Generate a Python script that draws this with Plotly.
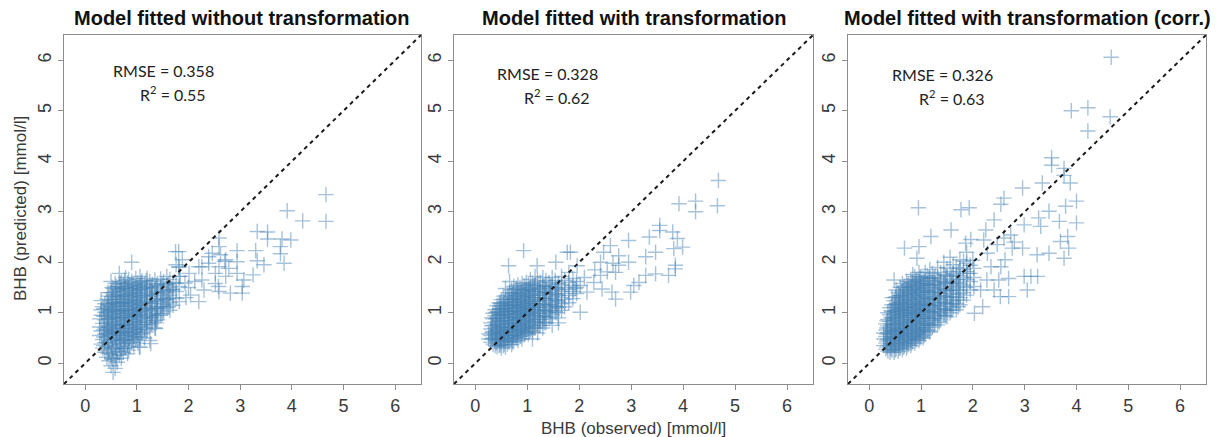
import plotly.graph_objects as go

# ---------------------------------------------------------------- data
# Observed vs. predicted BHB [mmol/l]; dense part stored column-wise as
# (observed, [predicted, ...]), sparse high values as (observed, predicted).

core_no_trans = [
    (0.28, [0.55, 0.72, 0.88]),
    (0.31, [0.38, 0.64, 0.95, 1.06, 1.24]),
    (0.34, [0.30, 0.47, 0.79, 1.12]),
    (0.36, [0.35, 0.52, 0.66, 0.93, 1.08]),
    (0.38, [0.22, 0.41, 0.58, 0.70, 0.86, 1.01, 1.18]),
    (0.42, [0.12, 0.33, 0.52, 0.66, 0.80, 0.94, 1.09, 1.27]),
    (0.44, [0.20, 0.40, 0.58, 0.72, 0.87, 1.00, 1.15, 1.40]),
    (0.46, [0.05, 0.26, 0.44, 0.60, 0.74, 0.89, 1.03, 1.17, 1.33]),
    (0.50, [-0.05, 0.18, 0.37, 0.55, 0.69, 0.83, 0.98, 1.12, 1.26, 1.40, 1.62]),
    (0.52, [0.10, 0.31, 0.48, 0.63, 0.76, 0.90, 1.04, 1.19, 1.32, 1.50]),
    (0.54, [-0.18, 0.08, 0.28, 0.46, 0.62, 0.77, 0.92, 1.06, 1.21, 1.35, 1.48]),
    (0.58, [-0.10, 0.15, 0.33, 0.51, 0.66, 0.81, 0.96, 1.11, 1.25, 1.42, 1.58]),
    (0.60, [0.09, 0.29, 0.46, 0.61, 0.76, 0.91, 1.06, 1.20, 1.36, 1.52]),
    (0.62, [0.02, 0.24, 0.42, 0.57, 0.72, 0.87, 1.02, 1.16, 1.31, 1.46]),
    (0.66, [0.17, 0.36, 0.50, 0.64, 0.79, 0.94, 1.08, 1.22, 1.37, 1.52, 1.78]),
    (0.68, [0.23, 0.40, 0.55, 0.69, 0.84, 0.99, 1.13, 1.27, 1.43, 1.58]),
    (0.70, [0.10, 0.29, 0.45, 0.60, 0.74, 0.89, 1.03, 1.18, 1.32, 1.47, 1.61]),
    (0.74, [0.22, 0.39, 0.54, 0.69, 0.84, 0.98, 1.13, 1.27, 1.41, 1.56]),
    (0.76, [0.30, 0.46, 0.61, 0.76, 0.91, 1.05, 1.20, 1.34, 1.49, 1.64]),
    (0.78, [0.30, 0.47, 0.62, 0.77, 0.92, 1.06, 1.21, 1.35, 1.50, 1.70]),
    (0.82, [0.19, 0.40, 0.56, 0.71, 0.86, 1.00, 1.15, 1.29, 1.44, 1.59]),
    (0.84, [0.26, 0.44, 0.60, 0.75, 0.90, 1.04, 1.19, 1.33, 1.48, 1.66]),
    (0.86, [0.33, 0.50, 0.65, 0.80, 0.95, 1.09, 1.24, 1.38, 1.53]),
    (0.90, [0.42, 0.58, 0.73, 0.88, 1.03, 1.17, 1.32, 1.47, 1.62, 2.00]),
    (0.92, [0.47, 0.63, 0.78, 0.93, 1.07, 1.22, 1.37, 1.52]),
    (0.94, [0.36, 0.53, 0.68, 0.83, 0.97, 1.12, 1.26, 1.41, 1.56]),
    (0.98, [0.47, 0.62, 0.77, 0.92, 1.06, 1.21, 1.35, 1.50, 1.68]),
    (1.00, [0.52, 0.67, 0.81, 0.96, 1.11, 1.25, 1.40, 1.55]),
    (1.02, [0.40, 0.56, 0.71, 0.86, 1.00, 1.15, 1.30, 1.44, 1.59]),
    (1.06, [0.32, 0.52, 0.67, 0.82, 0.96, 1.10, 1.25, 1.39, 1.54, 1.72]),
    (1.08, [0.58, 0.73, 0.88, 1.03, 1.17, 1.31, 1.46, 1.60]),
    (1.10, [0.60, 0.76, 0.91, 1.05, 1.19, 1.34, 1.48, 1.63]),
    (1.15, [0.50, 0.70, 0.85, 1.00, 1.14, 1.28, 1.43, 1.57]),
    (1.18, [0.62, 0.77, 0.92, 1.07, 1.21, 1.35, 1.50, 1.64]),
    (1.20, [0.66, 0.81, 0.95, 1.09, 1.23, 1.38, 1.52, 1.68]),
    (1.25, [0.45, 0.74, 0.89, 1.03, 1.18, 1.32, 1.47, 1.62]),
    (1.28, [0.78, 0.92, 1.07, 1.22, 1.36, 1.51]),
    (1.30, [0.82, 0.97, 1.11, 1.26, 1.41, 1.56]),
    (1.35, [0.70, 0.90, 1.05, 1.19, 1.34, 1.49, 1.65]),
    (1.38, [0.80, 0.94, 1.09, 1.24, 1.39, 1.54]),
    (1.40, [0.86, 0.99, 1.13, 1.28, 1.43, 1.58]),
    (1.46, [0.95, 1.08, 1.22, 1.37, 1.52, 1.67]),
    (1.49, [0.98, 1.12, 1.27, 1.42, 1.57]),
    (1.52, [1.02, 1.17, 1.31, 1.46, 1.62]),
    (1.58, [1.10, 1.25, 1.40, 1.55, 1.72]),
    (1.61, [1.12, 1.28, 1.44, 1.58]),
    (1.64, [1.05, 1.20, 1.35, 1.50, 1.66]),
    (1.70, [1.15, 1.30, 1.46, 1.60]),
    (1.76, [1.28, 1.42, 1.58, 1.95]),
    (1.82, [1.22, 1.52, 1.72, 1.90]),
]

tail_no_trans = [
    (4.66, 3.34), (4.66, 2.81), (4.21, 2.82), (3.91, 3.02), (3.53, 2.60),
    (3.33, 2.61), (3.53, 2.46), (3.81, 2.46), (3.98, 2.44), (3.78, 2.17),
    (3.78, 2.31), (3.33, 2.03), (3.46, 1.95), (3.30, 2.23), (3.85, 1.98),
    (2.94, 2.23), (2.94, 2.01), (2.94, 1.78), (2.78, 1.88), (3.25, 1.75),
    (3.07, 1.65), (3.04, 1.52), (3.04, 1.39), (2.81, 1.39), (2.62, 2.15),
    (2.72, 2.05), (2.59, 1.91), (2.52, 1.78), (2.72, 1.72), (2.39, 2.11),
    (2.39, 1.98), (2.26, 1.91), (2.52, 1.58), (2.58, 1.52), (2.59, 1.42),
    (2.26, 1.65), (1.75, 2.21), (1.88, 2.05), (2.01, 1.78), (2.59, 2.48),
    (2.59, 2.31), (2.46, 2.18), (2.20, 1.91), (2.20, 1.22), (2.04, 1.35),
    (2.00, 1.50), (1.81, 2.21), (1.81, 1.91), (1.84, 1.72), (1.93, 1.59),
    (1.68, 1.46), (1.55, 1.26), (1.36, 0.85), (1.36, 0.69), (1.27, 0.39),
    (1.05, 0.32), (2.12, 1.62), (2.30, 1.45), (1.95, 1.30), (2.70, 2.02),
]

core_trans = [
    (0.26, [0.48, 0.58]),
    (0.30, [0.42, 0.55, 0.68, 0.80]),
    (0.32, [0.48, 0.61, 0.74, 0.90]),
    (0.34, [0.38, 0.50, 0.63, 0.75, 0.88, 0.99]),
    (0.38, [0.35, 0.46, 0.58, 0.70, 0.82, 0.94, 1.06]),
    (0.40, [0.40, 0.52, 0.64, 0.76, 0.88, 1.00]),
    (0.42, [0.33, 0.44, 0.55, 0.66, 0.78, 0.90, 1.02, 1.14]),
    (0.46, [0.36, 0.48, 0.60, 0.72, 0.84, 0.96, 1.08, 1.20]),
    (0.48, [0.36, 0.47, 0.59, 0.71, 0.83, 0.95, 1.07, 1.18]),
    (0.50, [0.30, 0.42, 0.53, 0.65, 0.77, 0.89, 1.01, 1.13, 1.26]),
    (0.54, [0.35, 0.47, 0.59, 0.71, 0.83, 0.95, 1.07, 1.19, 1.33]),
    (0.56, [0.38, 0.50, 0.62, 0.73, 0.85, 0.97, 1.09, 1.21]),
    (0.58, [0.32, 0.44, 0.56, 0.67, 0.79, 0.91, 1.03, 1.15, 1.27, 1.48]),
    (0.62, [0.38, 0.50, 0.62, 0.74, 0.86, 0.98, 1.10, 1.22, 1.35]),
    (0.64, [0.44, 0.56, 0.68, 0.80, 0.92, 1.04, 1.16, 1.30]),
    (0.66, [0.42, 0.54, 0.66, 0.78, 0.90, 1.02, 1.14, 1.26, 1.40, 1.62]),
    (0.70, [0.37, 0.48, 0.60, 0.72, 0.84, 0.96, 1.08, 1.20, 1.32, 1.45]),
    (0.72, [0.42, 0.54, 0.66, 0.78, 0.90, 1.02, 1.14, 1.26, 1.38]),
    (0.74, [0.44, 0.56, 0.68, 0.80, 0.92, 1.04, 1.16, 1.28, 1.40, 1.52]),
    (0.78, [0.50, 0.62, 0.74, 0.86, 0.98, 1.10, 1.22, 1.34, 1.46]),
    (0.80, [0.50, 0.62, 0.75, 0.87, 0.99, 1.11, 1.23, 1.35, 1.48]),
    (0.82, [0.45, 0.57, 0.69, 0.81, 0.93, 1.05, 1.17, 1.29, 1.41, 1.55]),
    (0.86, [0.53, 0.65, 0.77, 0.89, 1.01, 1.13, 1.25, 1.37, 1.50]),
    (0.88, [0.54, 0.66, 0.78, 0.90, 1.02, 1.14, 1.26, 1.38]),
    (0.90, [0.48, 0.60, 0.72, 0.84, 0.96, 1.08, 1.20, 1.32, 1.44, 1.58]),
    (0.94, [0.56, 0.68, 0.80, 0.92, 1.04, 1.16, 1.28, 1.40, 1.53]),
    (0.96, [0.60, 0.72, 0.84, 0.96, 1.08, 1.20, 1.32, 1.45]),
    (0.98, [0.62, 0.74, 0.86, 0.98, 1.10, 1.22, 1.34, 1.46, 1.60]),
    (1.02, [0.58, 0.70, 0.82, 0.94, 1.06, 1.18, 1.30, 1.42, 1.55]),
    (1.04, [0.64, 0.76, 0.88, 1.00, 1.12, 1.24, 1.36, 1.48]),
    (1.06, [0.66, 0.78, 0.90, 1.02, 1.14, 1.26, 1.38, 1.50, 1.66]),
    (1.10, [0.48, 0.62, 0.74, 0.86, 0.98, 1.10, 1.22, 1.34, 1.46, 1.58]),
    (1.13, [0.70, 0.82, 0.94, 1.06, 1.18, 1.30, 1.42, 1.54]),
    (1.15, [0.70, 0.82, 0.94, 1.06, 1.18, 1.30, 1.42, 1.55, 1.72]),
    (1.20, [0.60, 0.78, 0.90, 1.02, 1.14, 1.26, 1.38, 1.50, 1.63]),
    (1.23, [0.74, 0.86, 0.98, 1.10, 1.22, 1.34, 1.46]),
    (1.25, [0.75, 0.87, 0.99, 1.11, 1.23, 1.35, 1.47, 1.60]),
    (1.30, [0.70, 0.82, 0.94, 1.06, 1.18, 1.30, 1.42, 1.54, 1.70]),
    (1.33, [0.80, 0.92, 1.04, 1.16, 1.28, 1.40, 1.52]),
    (1.36, [0.80, 0.92, 1.04, 1.16, 1.28, 1.40, 1.52, 1.64]),
    (1.42, [0.88, 1.00, 1.12, 1.24, 1.36, 1.48, 1.60]),
    (1.45, [0.92, 1.04, 1.16, 1.28, 1.40, 1.52]),
    (1.48, [0.75, 0.96, 1.08, 1.20, 1.32, 1.44, 1.56, 1.70]),
    (1.54, [1.02, 1.14, 1.26, 1.38, 1.50, 1.64]),
    (1.57, [1.00, 1.12, 1.24, 1.36, 1.48]),
    (1.60, [0.80, 0.90, 1.10, 1.22, 1.34, 1.46, 1.58]),
    (1.66, [1.05, 1.18, 1.30, 1.42, 1.55, 1.72]),
    (1.72, [1.12, 1.26, 1.38, 1.50, 1.64]),
    (1.80, [1.20, 1.34, 1.46, 1.60, 1.80]),
    (1.88, [1.28, 1.42, 1.54, 1.68]),
    (1.95, [1.38, 1.50, 1.62]),
]

tail_trans = [
    (4.68, 3.62), (4.66, 3.12), (4.24, 3.21), (4.24, 3.00), (3.92, 3.16),
    (3.55, 2.73), (3.55, 2.63), (3.35, 2.50), (3.80, 2.60), (3.89, 2.47),
    (3.82, 2.27), (3.99, 2.30), (3.47, 2.20), (3.28, 2.11), (2.95, 2.43),
    (2.76, 2.13), (2.95, 2.00), (2.76, 1.94), (3.28, 1.74), (3.47, 1.77),
    (3.72, 1.74), (3.85, 1.87), (3.85, 1.94), (3.05, 1.54), (2.99, 1.41),
    (2.70, 1.27), (2.63, 1.41), (2.44, 1.47), (2.60, 2.33), (2.47, 2.20),
    (2.41, 2.00), (2.54, 1.81), (2.41, 1.74), (2.28, 1.60), (2.15, 1.41),
    (2.02, 1.01), (2.02, 1.54), (1.96, 1.93), (1.77, 2.20), (1.83, 2.20),
    (0.93, 2.23), (1.19, 1.93), (1.55, 2.00), (0.64, 1.93), (2.65, 1.98),
    (2.70, 1.80), (2.30, 1.85), (3.15, 1.60), (2.10, 1.70), (1.92, 1.48),
]

core_trans_corr = [
    (0.28, [0.35, 0.48, 0.60]),
    (0.32, [0.28, 0.40, 0.53, 0.66, 0.78]),
    (0.34, [0.32, 0.44, 0.58, 0.70, 0.84]),
    (0.36, [0.24, 0.36, 0.48, 0.61, 0.74, 0.87, 1.00]),
    (0.40, [0.22, 0.33, 0.45, 0.57, 0.70, 0.83, 0.96, 1.10]),
    (0.42, [0.28, 0.40, 0.52, 0.65, 0.78, 0.91, 1.04]),
    (0.44, [0.26, 0.38, 0.50, 0.63, 0.76, 0.89, 1.02, 1.16, 1.30]),
    (0.48, [0.22, 0.34, 0.46, 0.59, 0.72, 0.85, 0.98, 1.11, 1.24, 1.65]),
    (0.50, [0.26, 0.38, 0.51, 0.64, 0.77, 0.90, 1.03, 1.16, 1.30]),
    (0.52, [0.28, 0.40, 0.53, 0.66, 0.79, 0.92, 1.05, 1.18, 1.32, 1.45]),
    (0.56, [0.24, 0.36, 0.49, 0.62, 0.75, 0.88, 1.01, 1.14, 1.27, 1.40]),
    (0.58, [0.30, 0.42, 0.55, 0.68, 0.81, 0.94, 1.07, 1.20, 1.34]),
    (0.60, [0.30, 0.43, 0.56, 0.69, 0.82, 0.95, 1.08, 1.21, 1.34, 1.50]),
    (0.64, [0.27, 0.39, 0.52, 0.65, 0.78, 0.91, 1.04, 1.17, 1.30, 1.43, 1.58]),
    (0.66, [0.32, 0.45, 0.58, 0.71, 0.84, 0.97, 1.10, 1.23, 1.36, 1.50]),
    (0.68, [0.34, 0.47, 0.60, 0.73, 0.86, 0.99, 1.12, 1.25, 1.38, 1.52, 2.28]),
    (0.72, [0.30, 0.42, 0.55, 0.68, 0.81, 0.94, 1.07, 1.20, 1.33, 1.46, 1.62]),
    (0.74, [0.36, 0.48, 0.61, 0.74, 0.87, 1.00, 1.13, 1.26, 1.40, 1.54]),
    (0.76, [0.38, 0.51, 0.64, 0.77, 0.90, 1.03, 1.16, 1.29, 1.42, 1.56]),
    (0.80, [0.35, 0.47, 0.60, 0.73, 0.86, 0.99, 1.12, 1.25, 1.38, 1.51, 1.66]),
    (0.82, [0.40, 0.53, 0.66, 0.79, 0.92, 1.05, 1.18, 1.31, 1.45, 1.60]),
    (0.84, [0.43, 0.56, 0.69, 0.82, 0.95, 1.08, 1.21, 1.34, 1.47, 1.61, 1.76]),
    (0.88, [0.40, 0.52, 0.65, 0.78, 0.91, 1.04, 1.17, 1.30, 1.43, 1.57, 1.72]),
    (0.90, [0.46, 0.58, 0.71, 0.84, 0.97, 1.10, 1.23, 1.36, 1.50, 1.64]),
    (0.92, [0.48, 0.61, 0.74, 0.87, 1.00, 1.13, 1.26, 1.39, 1.52, 1.66, 2.08]),
    (0.96, [0.45, 0.57, 0.70, 0.83, 0.96, 1.09, 1.22, 1.35, 1.48, 1.62, 1.80, 2.31]),
    (0.98, [0.50, 0.63, 0.76, 0.89, 1.02, 1.15, 1.28, 1.41, 1.55, 1.70]),
    (1.00, [0.53, 0.66, 0.79, 0.92, 1.05, 1.18, 1.31, 1.44, 1.58, 1.72]),
    (1.04, [0.50, 0.62, 0.75, 0.88, 1.01, 1.14, 1.27, 1.40, 1.54, 1.68]),
    (1.06, [0.55, 0.68, 0.81, 0.94, 1.07, 1.20, 1.33, 1.47, 1.61]),
    (1.08, [0.58, 0.71, 0.84, 0.97, 1.10, 1.23, 1.36, 1.50, 1.64, 1.80]),
    (1.12, [0.66, 0.79, 0.92, 1.05, 1.18, 1.31, 1.44, 1.58, 1.73]),
    (1.15, [0.64, 0.77, 0.90, 1.03, 1.16, 1.29, 1.42, 1.56, 1.70]),
    (1.17, [0.62, 0.75, 0.88, 1.01, 1.14, 1.27, 1.40, 1.54, 1.68, 1.86]),
    (1.22, [0.72, 0.85, 0.98, 1.11, 1.24, 1.37, 1.50, 1.64, 1.78]),
    (1.25, [0.76, 0.89, 1.02, 1.15, 1.28, 1.41, 1.55, 1.69]),
    (1.27, [0.80, 0.93, 1.06, 1.19, 1.32, 1.45, 1.59, 1.73]),
    (1.32, [0.76, 0.89, 1.02, 1.15, 1.28, 1.41, 1.55, 1.69, 1.90]),
    (1.35, [0.82, 0.95, 1.08, 1.21, 1.34, 1.48, 1.62]),
    (1.38, [0.86, 0.99, 1.12, 1.25, 1.38, 1.51, 1.65, 1.80]),
    (1.44, [0.95, 1.08, 1.21, 1.34, 1.47, 1.61, 1.76, 2.00]),
    (1.47, [0.94, 1.06, 1.19, 1.32, 1.45, 1.59, 1.74]),
    (1.50, [0.92, 1.04, 1.17, 1.30, 1.43, 1.57, 1.72, 1.88]),
    (1.56, [1.00, 1.13, 1.26, 1.39, 1.53, 1.67, 1.82, 2.10]),
    (1.59, [1.05, 1.18, 1.31, 1.44, 1.58, 1.72]),
    (1.62, [1.10, 1.23, 1.36, 1.49, 1.63, 1.78, 1.95]),
    (1.68, [1.06, 1.19, 1.32, 1.46, 1.60, 1.75, 1.90]),
    (1.72, [1.12, 1.25, 1.38, 1.52, 1.66, 1.81]),
    (1.75, [1.16, 1.30, 1.44, 1.58, 1.73, 1.88, 2.05]),
    (1.82, [1.25, 1.40, 1.55, 1.70, 1.86, 2.02]),
    (1.88, [1.35, 1.50, 1.66, 1.82, 1.98, 2.20]),
    (1.95, [1.45, 1.62, 1.78, 1.94]),
    (2.02, [1.52, 1.70, 1.88]),
]

tail_trans_corr = [
    (4.67, 6.06), (3.90, 5.00), (4.22, 5.06), (4.22, 4.60), (4.65, 4.88),
    (3.52, 4.07), (3.52, 3.92), (3.76, 3.86), (3.76, 3.72), (3.88, 3.57),
    (2.96, 3.47), (3.34, 3.57), (3.47, 3.01), (3.79, 3.11), (4.00, 3.21),
    (4.00, 2.78), (3.67, 2.81), (3.31, 2.71), (3.27, 2.88), (2.99, 2.74),
    (2.60, 3.27), (2.54, 3.15), (2.41, 2.84), (2.25, 2.64), (2.73, 2.54),
    (2.60, 2.48), (2.76, 2.28), (2.96, 2.28), (3.24, 2.15), (3.47, 2.18),
    (3.76, 2.08), (3.69, 2.41), (3.83, 2.51), (3.85, 2.28), (2.99, 1.72),
    (3.12, 1.72), (3.25, 1.72), (3.05, 1.45), (2.69, 1.68), (2.69, 1.32),
    (2.53, 1.32), (2.41, 1.45), (2.50, 1.65), (2.27, 1.65), (2.35, 1.91),
    (2.54, 1.91), (2.28, 2.18), (2.47, 2.35), (2.21, 2.44), (1.96, 2.45),
    (1.86, 2.38), (1.58, 2.64), (1.19, 2.51), (0.95, 3.08), (1.77, 3.04),
    (1.93, 3.08), (2.03, 0.99), (2.19, 1.12), (2.00, 2.04), (1.90, 1.78),
    (2.62, 2.05), (2.80, 2.40), (2.15, 1.45),
]

panel_titles = [
    "Model fitted without transformation",
    "Model fitted with transformation",
    "Model fitted with transformation (corr.)",
]
rmse_values = ["0.358", "0.328", "0.326"]
r2_values = ["0.55", "0.62", "0.63"]
tick_values = [0, 1, 2, 3, 4, 5, 6]

# ---------------------------------------------------------------- layout
W, H = 1225, 437
AXIS_RANGE = [-0.41, 6.5]
panel_px = [(64, 421), (454, 813), (848, 1206)]   # left/right edges of each box
top_px, bottom_px = 35, 384

POINT_COLOR = "rgba(70,130,180,0.48)"
TEXT_COLOR = "#3a3a3a"
FRAME_COLOR = "#8c8c8c"


def expand(core, tail):
    xs, ys = [], []
    for x, col in core:
        for y in col:
            xs.append(x)
            ys.append(y)
    for x, y in tail:
        xs.append(x)
        ys.append(y)
    return xs, ys


panels = [
    expand(core_no_trans, tail_no_trans),
    expand(core_trans, tail_trans),
    expand(core_trans_corr, tail_trans_corr),
]

fig = go.Figure()
layout_axes = {}
shapes = []
annotations = []

for i, (xs, ys) in enumerate(panels):
    n = "" if i == 0 else str(i + 1)
    fig.add_trace(go.Scatter(
        x=xs, y=ys, mode="markers",
        xaxis="x" + n, yaxis="y" + n,
        marker=dict(symbol="cross-thin", size=11,
                    line=dict(width=1.4, color=POINT_COLOR)),
        hoverinfo="x+y", showlegend=False,
    ))
    left, right = panel_px[i]
    common = dict(
        range=AXIS_RANGE, tickvals=tick_values, ticks="outside", ticklen=5,
        tickwidth=1, tickcolor=FRAME_COLOR, showline=True, mirror=True,
        linecolor=FRAME_COLOR, linewidth=1, showgrid=False, zeroline=False,
        tickfont=dict(family="Liberation Sans, Arial, sans-serif", size=18,
                      color=TEXT_COLOR),
        fixedrange=True,
    )
    layout_axes["xaxis" + n] = dict(
        common, domain=[left / W, right / W], anchor="y" + n)
    layout_axes["yaxis" + n] = dict(
        common, domain=[1 - bottom_px / H, 1 - top_px / H], anchor="x" + n,
        tickangle=-90)

    # 1:1 reference line across the whole box
    shapes.append(dict(
        type="line", xref="x" + n, yref="y" + n, layer="above",
        x0=AXIS_RANGE[0], y0=AXIS_RANGE[0], x1=AXIS_RANGE[1], y1=AXIS_RANGE[1],
        line=dict(color="#1a1a1a", width=2, dash="4px,4px"),
    ))

    annotations.append(dict(
        text="<b>%s</b>" % panel_titles[i], xref="paper", yref="paper",
        x=(left + right) / 2 / W, y=1 - 18 / H, showarrow=False,
        xanchor="center", yanchor="middle",
        font=dict(family="Liberation Sans, Arial, sans-serif", size=20,
                  color="#111"),
    ))
    stat_font = dict(family="Lato, Open Sans, sans-serif", size=16, color="#222")
    rmse_x = [0.50, 0.37, 0.40][i]
    rmse_y = [5.79, 5.73, 5.71][i]
    annotations.append(dict(
        text="RMSE = " + rmse_values[i], xref="x" + n, yref="y" + n,
        x=rmse_x, y=rmse_y, showarrow=False, xanchor="left", yanchor="middle",
        font=stat_font,
    ))
    annotations.append(dict(
        text="R<sup>2</sup> = " + r2_values[i], xref="x" + n, yref="y" + n,
        x=rmse_x + 0.52, y=rmse_y - 0.44, showarrow=False, xanchor="left",
        yanchor="middle", font=stat_font,
    ))

axis_title_font = dict(family="Liberation Sans, Arial, sans-serif", size=17,
                       color=TEXT_COLOR)
annotations.append(dict(
    text="BHB (observed) [mmol/l]", xref="paper", yref="paper",
    x=(panel_px[1][0] + panel_px[1][1]) / 2 / W, y=1 - 428 / H,
    showarrow=False, xanchor="center", yanchor="middle", font=axis_title_font,
))
annotations.append(dict(
    text="BHB (predicted) [mmol/l]", xref="paper", yref="paper",
    x=20 / W, y=1 - 209 / H, textangle=-90,
    showarrow=False, xanchor="center", yanchor="middle", font=axis_title_font,
))

fig.update_layout(
    width=W, height=H, margin=dict(l=0, r=0, t=0, b=0),
    paper_bgcolor="white", plot_bgcolor="white",
    shapes=shapes, annotations=annotations, **layout_axes,
)

fig.write_html("out.html")
